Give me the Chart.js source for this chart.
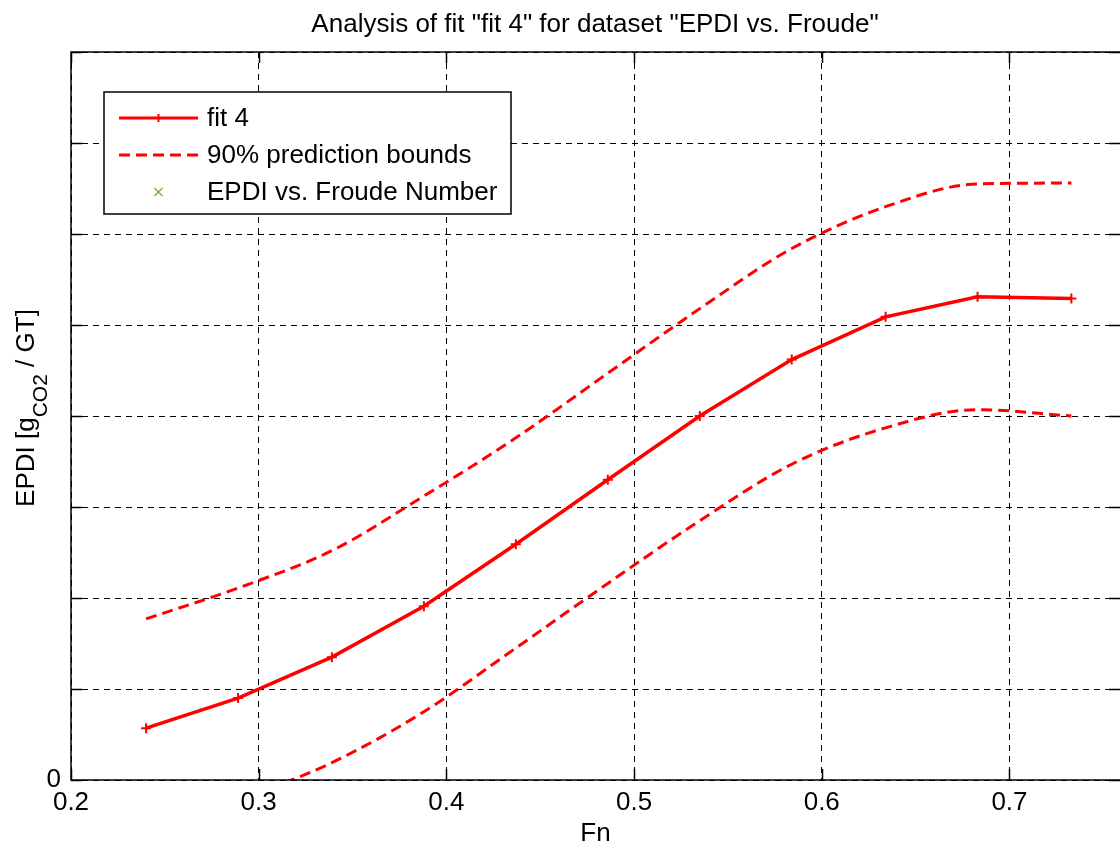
<!DOCTYPE html>
<html>
<head>
<meta charset="utf-8">
<title>Analysis of fit 4</title>
<script src="https://cdn.jsdelivr.net/npm/chart.js@4.4.0/dist/chart.umd.min.js"></script>
<style>
    html, body { margin: 0; padding: 0; background: #fff; overflow: hidden; }
    #wrap { width: 1120px; height: 851px; overflow: hidden; }
</style>
</head>
<body>
<div id="wrap"><canvas id="fit-chart" width="1120" height="851"></canvas></div>
<script>
// Froude numbers of the dataset points
const froude = [0.240, 0.289, 0.339, 0.388, 0.437, 0.486, 0.535, 0.584, 0.634, 0.683, 0.733];

// fit 4 and its 90% prediction bounds (EPDI, one grid step = 1)
const fitValues  = [0.57, 0.90, 1.35, 1.91, 2.59, 3.30, 4.00, 4.62, 5.09, 5.31, 5.29];
const upperBound = [1.77, 2.11, 2.52, 3.12, 3.76, 4.47, 5.18, 5.84, 6.30, 6.55, 6.56];
const lowerBound = [-0.75, -0.24, 0.19, 0.75, 1.45, 2.16, 2.85, 3.47, 3.87, 4.07, 4.00];

const seriesLabels = ['fit 4', '90% prediction bounds', 'EPDI vs. Froude Number'];
const xTicks = [0.2, 0.3, 0.4, 0.5, 0.6, 0.7];
const yTicks = [0, 1, 2, 3, 4, 5, 6, 7, 8];
const yTickLabels = ['0', '', '', '', '', '', '', '', ''];

const FONT = '"Liberation Sans", Arial, sans-serif';
const RED = '#ff0000';
const GREEN = '#6dbb3c';
const TICK = 11;

const toPoints = values => froude.map((f, i) => ({ x: f, y: values[i] }));

/**
 * Title, y label with subscript, axes box with inner ticks
 */
const decorPlugin = {
    id: 'decor',
    afterDatasetsDraw(chart) {
        const { ctx, chartArea: a, scales: { x, y } } = chart;
        ctx.save();

        // box (right side is cut off by the picture edge) + inner ticks
        ctx.strokeStyle = '#000';
        ctx.lineWidth = 1.5;
        ctx.beginPath();
        ctx.moveTo(a.right, a.top); ctx.lineTo(a.left, a.top);
        ctx.lineTo(a.left, a.bottom); ctx.lineTo(a.right, a.bottom);
        xTicks.forEach(v => {
            const px = Math.round(x.getPixelForValue(v)) + 0.5;
            ctx.moveTo(px, a.bottom); ctx.lineTo(px, a.bottom - TICK);
            ctx.moveTo(px, a.top); ctx.lineTo(px, a.top + TICK);
        });
        yTicks.forEach(v => {
            const py = Math.round(y.getPixelForValue(v)) + 0.5;
            ctx.moveTo(a.left, py); ctx.lineTo(a.left + TICK, py);
            ctx.moveTo(a.right, py); ctx.lineTo(a.right - TICK, py);
        });
        ctx.stroke();

        // title
        ctx.fillStyle = '#000';
        ctx.font = '26px ' + FONT;
        ctx.textAlign = 'center';
        ctx.textBaseline = 'alphabetic';
        ctx.fillText('Analysis of fit "fit 4" for dataset "EPDI vs. Froude"', 595, 32);

        // y label: EPDI [g_CO2 / GT]
        const parts = [
            { t: 'EPDI [g', size: 26, dy: 0 },
            { t: 'CO2', size: 21, dy: 13 },
            { t: ' / GT]', size: 26, dy: 0 }
        ];
        let total = 0;
        parts.forEach(p => { ctx.font = p.size + 'px ' + FONT; p.w = ctx.measureText(p.t).width; total += p.w; });
        ctx.translate(34, (a.top + a.bottom) / 2 - 8);
        ctx.rotate(-Math.PI / 2);
        ctx.textAlign = 'left';
        let cx = -total / 2;
        parts.forEach(p => {
            ctx.font = p.size + 'px ' + FONT;
            ctx.fillText(p.t, cx, p.dy);
            cx += p.w;
        });
        ctx.restore();
    },
    afterDraw(chart) {
        // legend box drawn inside the axes, like MATLAB
        const { ctx, chartArea: a } = chart;
        const left = a.left + 33, top = a.top + 40, w = 407, h = 122;
        ctx.save();
        ctx.fillStyle = '#fff';
        ctx.fillRect(left, top, w, h);
        ctx.strokeStyle = '#000';
        ctx.lineWidth = 1.5;
        ctx.strokeRect(left, top, w, h);

        const rows = [top + 26, top + 63, top + 100];
        const x1 = left + 15, x2 = left + 94, xm = (x1 + x2) / 2;

        ctx.strokeStyle = RED;
        ctx.lineWidth = 3;
        ctx.beginPath(); ctx.moveTo(x1, rows[0]); ctx.lineTo(x2, rows[0]); ctx.stroke();
        ctx.lineWidth = 2;
        ctx.beginPath();
        ctx.moveTo(xm - 4, rows[0]); ctx.lineTo(xm + 4, rows[0]);
        ctx.moveTo(xm, rows[0] - 4); ctx.lineTo(xm, rows[0] + 4);
        ctx.stroke();

        ctx.lineWidth = 3;
        ctx.setLineDash([11, 6]);
        ctx.beginPath(); ctx.moveTo(x1, rows[1]); ctx.lineTo(x2, rows[1]); ctx.stroke();
        ctx.setLineDash([]);

        ctx.strokeStyle = GREEN;
        ctx.lineWidth = 1.5;
        ctx.beginPath();
        ctx.moveTo(xm - 4, rows[2] - 4); ctx.lineTo(xm + 4, rows[2] + 4);
        ctx.moveTo(xm + 4, rows[2] - 4); ctx.lineTo(xm - 4, rows[2] + 4);
        ctx.stroke();

        ctx.fillStyle = '#000';
        ctx.font = '26px ' + FONT;
        ctx.textAlign = 'left';
        ctx.textBaseline = 'middle';
        seriesLabels.forEach((label, i) => ctx.fillText(label, left + 103, rows[i] + 1));
        ctx.restore();
    }
};

const ctx = document.getElementById('fit-chart').getContext('2d');

const fitChart = new Chart(ctx, {
    type: 'line',
    data: {
        datasets: [
            {
                label: seriesLabels[0],
                data: toPoints(fitValues),
                borderColor: RED,
                backgroundColor: RED,
                borderWidth: 3.5,
                tension: 0,
                pointStyle: 'cross',
                pointRadius: 5,
                pointBorderWidth: 2,
                clip: 0
            },
            {
                label: seriesLabels[1],
                data: toPoints(upperBound),
                borderColor: RED,
                borderWidth: 3,
                borderDash: [11, 6],
                cubicInterpolationMode: 'monotone',
                pointRadius: 0,
                clip: 0
            },
            {
                label: seriesLabels[1],
                data: toPoints(lowerBound),
                borderColor: RED,
                borderWidth: 3,
                borderDash: [11, 6],
                cubicInterpolationMode: 'monotone',
                pointRadius: 0,
                clip: 0
            },
            {
                label: seriesLabels[2],
                data: [],
                showLine: false,
                borderColor: GREEN,
                pointStyle: 'crossRot',
                pointRadius: 5
            }
        ]
    },
    options: {
        responsive: false,
        animation: false,
        layout: { autoPadding: false, padding: { top: 52, right: 0, left: 0, bottom: 0 } },
        scales: {
            x: {
                type: 'linear',
                min: 0.2,
                max: 0.7589,
                afterFit: scale => {
                    scale.height = 71;
                    scale.paddingLeft = 0;
                    scale.paddingRight = 0;
                },
                afterBuildTicks: scale => { scale.ticks = xTicks.map(v => ({ value: v })); },
                ticks: {
                    color: '#000',
                    font: { family: FONT, size: 26 },
                    padding: 7,
                    maxRotation: 0,
                    callback: value => value.toFixed(1)
                },
                grid: { color: '#000', lineWidth: 1, drawTicks: false },
                border: { display: false, dash: [6, 5] },
                title: {
                    display: true,
                    text: 'Fn',
                    color: '#000',
                    font: { family: FONT, size: 26 },
                    padding: { top: 0, bottom: 2 }
                }
            },
            y: {
                type: 'linear',
                min: 0,
                max: 8,
                afterFit: scale => {
                    scale.width = 71;
                    scale.paddingTop = 0;
                    scale.paddingBottom = 0;
                },
                afterBuildTicks: scale => { scale.ticks = yTicks.map(v => ({ value: v })); },
                ticks: {
                    color: '#000',
                    font: { family: FONT, size: 26 },
                    padding: 10,
                    callback: (value, index) => yTickLabels[index]
                },
                grid: { color: '#000', lineWidth: 1, drawTicks: false },
                border: { display: false, dash: [6, 5] }
            }
        },
        plugins: {
            legend: { display: false },
            tooltip: { enabled: false }
        }
    },
    plugins: [decorPlugin]
});
</script>
</body>
</html>
